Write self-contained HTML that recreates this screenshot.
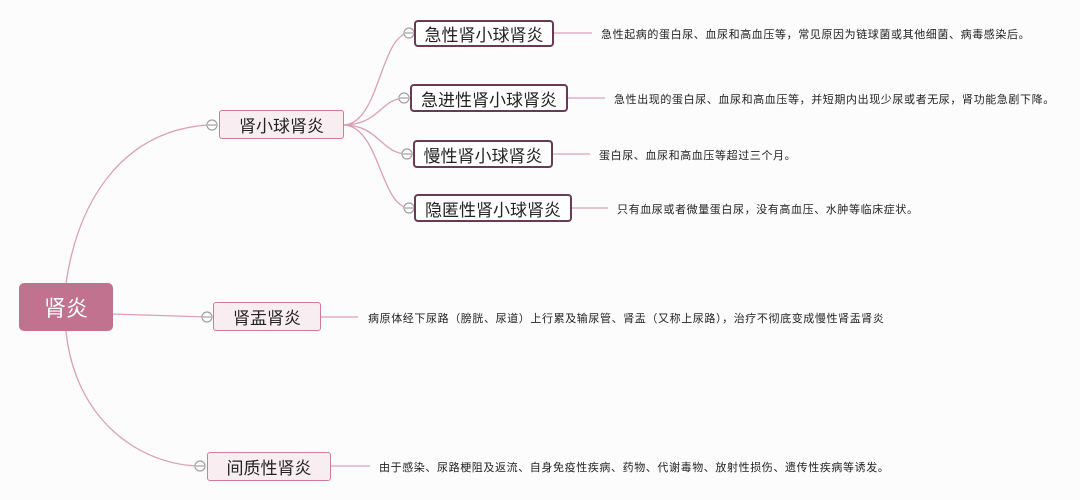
<!DOCTYPE html>
<html><head><meta charset="utf-8"><style>
body{margin:0;width:1080px;height:500px;background:#fcfcfc;position:relative;overflow:hidden;font-family:"Liberation Sans","Noto Sans CJK SC",sans-serif;}
.b{position:absolute;box-sizing:border-box;display:flex;align-items:center;justify-content:center;color:#222;white-space:nowrap;}
.l1{border:1.5px solid #d07a9e;border-radius:3px;background:#f8eef2;font-size:17px;}
.l2{border:2.5px solid #6a3a55;border-radius:4px;background:#fff;font-size:17px;}
.t{position:absolute;font-size:11px;letter-spacing:0.6px;color:#222;white-space:nowrap;}
</style></head><body>
<svg width="1080" height="500" style="position:absolute;left:0;top:0">
<g fill="none" stroke="#d9a0b8" stroke-width="1.3">
<path d="M66 283 C 80 190, 130 130, 208 125"/>
<path d="M66 331 C 75 420, 140 466, 202 466"/>
<path d="M112 314 L 208 317"/>
<path d="M343 125 C 380 125, 380 33, 410 33"/>
<path d="M343 125 C 380 125, 380 98, 406 98"/>
<path d="M343 125 C 380 125, 380 154, 408 154"/>
<path d="M343 125 C 380 125, 380 208, 410 208"/>
<path d="M553 33 L 592 33"/>
<path d="M567 98 L 605 98"/>
<path d="M553 154 L 590 154"/>
<path d="M571 208 L 608 208"/>
<path d="M320 317 L 358 317"/>
<path d="M331 466 L 370 466"/>
</g>
<g fill="#fff" stroke="#a0a0a0" stroke-width="1.2">
<circle cx="212" cy="125" r="5"/><circle cx="207" cy="317" r="5"/><circle cx="200" cy="466" r="5"/>
<circle cx="409" cy="33" r="5"/><circle cx="404" cy="98" r="5"/><circle cx="407" cy="154" r="5"/><circle cx="409" cy="208" r="5"/>
</g>
<g stroke="#a0a0a0" stroke-width="1.2"><line x1="208" y1="125" x2="216" y2="125"/><line x1="203" y1="317" x2="211" y2="317"/><line x1="196" y1="466" x2="204" y2="466"/><line x1="405" y1="33" x2="413" y2="33"/><line x1="400" y1="98" x2="408" y2="98"/><line x1="403" y1="154" x2="411" y2="154"/><line x1="405" y1="208" x2="413" y2="208"/></g>
</svg>
<div class="b" style="left:19px;top:283px;width:94px;height:48px;background:#c0728f;border-radius:5px;color:#fff;font-size:22px">肾炎</div>
<div class="b l1" style="left:219px;top:110px;width:125px;height:29px">肾小球肾炎</div>
<div class="b l1" style="left:213px;top:302px;width:108px;height:29px">肾盂肾炎</div>
<div class="b l1" style="left:207px;top:452px;width:124px;height:29px">间质性肾炎</div>
<div class="b l2" style="left:414px;top:20px;width:140px;height:27px">急性肾小球肾炎</div>
<div class="b l2" style="left:410px;top:84px;width:158px;height:28px">急进性肾小球肾炎</div>
<div class="b l2" style="left:413px;top:140px;width:140px;height:28px">慢性肾小球肾炎</div>
<div class="b l2" style="left:414px;top:194px;width:158px;height:28px">隐匿性肾小球肾炎</div>
<div class="t" style="left:601px;top:26px">急性起病的蛋白尿、血尿和高血压等，常见原因为链球菌或其他细菌、病毒感染后。</div>
<div class="t" style="left:614px;top:91px">急性出现的蛋白尿、血尿和高血压等，并短期内出现少尿或者无尿，肾功能急剧下降。</div>
<div class="t" style="left:599px;top:147px">蛋白尿、血尿和高血压等超过三个月。</div>
<div class="t" style="left:617px;top:201px">只有血尿或者微量蛋白尿，没有高血压、水肿等临床症状。</div>
<div class="t" style="left:368px;top:310px">病原体经下尿路（膀胱、尿道）上行累及输尿管、肾盂（又称上尿路），治疗不彻底变成慢性肾盂肾炎</div>
<div class="t" style="left:379px;top:459px">由于感染、尿路梗阻及返流、自身免疫性疾病、药物、代谢毒物、放射性损伤、遗传性疾病等诱发。</div>
</body></html>
